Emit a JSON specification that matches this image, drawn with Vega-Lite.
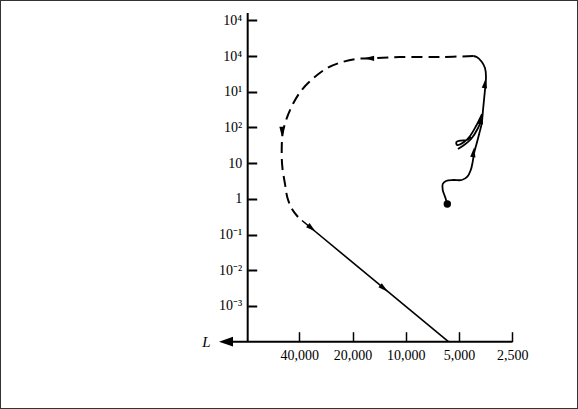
{
  "$schema": "https://vega.github.io/schema/vega-lite/v6.json",
  "width": 578,
  "height": 409,
  "autosize": {"type": "fit", "contains": "padding"},
  "padding": 0,
  "background": "white",
  "config": {"view": {"stroke": "#333", "strokeWidth": 2}, "font": "Liberation Serif"},
  "datasets": {
    "track": [
      {"seg": "A", "i": 1, "T": 5825, "v": 3.856},
      {"seg": "A", "i": 2, "T": 6000, "v": 4.06},
      {"seg": "A", "i": 3, "T": 6184, "v": 4.248},
      {"seg": "A", "i": 4, "T": 6184, "v": 4.416},
      {"seg": "A", "i": 5, "T": 5923, "v": 4.5},
      {"seg": "A", "i": 6, "T": 5393, "v": 4.528},
      {"seg": "A", "i": 7, "T": 4829, "v": 4.528},
      {"seg": "A", "i": 8, "T": 4487, "v": 4.621},
      {"seg": "A", "i": 9, "T": 4292, "v": 4.808},
      {"seg": "A", "i": 10, "T": 4185, "v": 5.041},
      {"seg": "A", "i": 11, "T": 4113, "v": 5.276},
      {"seg": "A", "i": 12, "T": 3973, "v": 5.556},
      {"seg": "A", "i": 13, "T": 3840, "v": 5.836},
      {"seg": "A", "i": 14, "T": 3723, "v": 6.116},
      {"seg": "A", "i": 15, "T": 3660, "v": 6.488},
      {"seg": "A", "i": 16, "T": 3600, "v": 6.852},
      {"seg": "A", "i": 17, "T": 3553, "v": 7.141},
      {"seg": "A", "i": 18, "T": 3521, "v": 7.412},
      {"seg": "A", "i": 19, "T": 3567, "v": 7.664},
      {"seg": "A", "i": 20, "T": 3723, "v": 7.841},
      {"seg": "A", "i": 21, "T": 3973, "v": 7.973},
      {"seg": "A", "i": 22, "T": 4148, "v": 8.001},
      {"seg": "B", "i": 1, "T": 3708, "v": 6.376},
      {"seg": "B", "i": 2, "T": 4008, "v": 6.04},
      {"seg": "B", "i": 3, "T": 4332, "v": 5.76},
      {"seg": "B", "i": 4, "T": 4683, "v": 5.592},
      {"seg": "B", "i": 5, "T": 5138, "v": 5.508},
      {"seg": "B", "i": 6, "T": 5172, "v": 5.592},
      {"seg": "B", "i": 7, "T": 4872, "v": 5.634},
      {"seg": "B", "i": 8, "T": 4506, "v": 5.648},
      {"seg": "B", "i": 9, "T": 4276, "v": 5.732},
      {"seg": "C", "i": 1, "T": 5072, "v": 5.396},
      {"seg": "C", "i": 2, "T": 4683, "v": 5.508},
      {"seg": "C", "i": 3, "T": 4276, "v": 5.676},
      {"seg": "C", "i": 4, "T": 3904, "v": 5.984},
      {"seg": "C", "i": 5, "T": 3708, "v": 6.264},
      {"seg": "D", "i": 1, "T": 4148, "v": 8.001},
      {"seg": "D", "i": 2, "T": 6403, "v": 7.973},
      {"seg": "D", "i": 3, "T": 10787, "v": 7.973},
      {"seg": "D", "i": 4, "T": 15263, "v": 7.936},
      {"seg": "D", "i": 5, "T": 18940, "v": 7.92},
      {"seg": "D", "i": 6, "T": 23552, "v": 7.813},
      {"seg": "D", "i": 7, "T": 27996, "v": 7.656},
      {"seg": "D", "i": 8, "T": 33336, "v": 7.376},
      {"seg": "D", "i": 9, "T": 38767, "v": 7.048},
      {"seg": "D", "i": 10, "T": 43248, "v": 6.676},
      {"seg": "D", "i": 11, "T": 47124, "v": 6.256},
      {"seg": "D", "i": 12, "T": 49640, "v": 5.836},
      {"seg": "D", "i": 13, "T": 50292, "v": 5.368},
      {"seg": "D", "i": 14, "T": 49900, "v": 4.901},
      {"seg": "D", "i": 15, "T": 48200, "v": 4.42},
      {"seg": "D", "i": 16, "T": 46644, "v": 4.024},
      {"seg": "D", "i": 17, "T": 43988, "v": 3.716},
      {"seg": "D", "i": 18, "T": 40684, "v": 3.492},
      {"seg": "S", "i": 1, "T": 38620, "v": 3.394},
      {"seg": "S", "i": 2, "T": 5743, "v": 0}
    ],
    "arrows": [
      {"dir": "up", "T": 3567, "v": 7.216},
      {"dir": "up", "T": 3757, "v": 6.208},
      {"dir": "up", "T": 4148, "v": 5.284},
      {"dir": "left", "T": 15937, "v": 7.936},
      {"dir": "down", "T": 50100, "v": 5.9},
      {"dir": "dr", "T": 34350, "v": 3.19},
      {"dir": "dr", "T": 13400, "v": 1.504}
    ],
    "axislines": [
      {"T": 78305, "v": 0, "T2": 78305, "v2": 9.205},
      {"T": 105200, "v": 0, "T2": 2500, "v2": 0}
    ],
    "axisarrow": [{"T": 103870, "v": 0}],
    "axislabel": [{"T": 133880, "v": 0, "label": "L"}],
    "start": [{"T": 5825, "v": 3.856}]
  },
  "encoding": {
    "x": {
      "field": "T",
      "type": "quantitative",
      "scale": {"type": "log", "base": 2, "domain": [1063, 1968000], "reverse": true, "nice": false, "zero": false},
      "axis": {
        "orient": "bottom",
        "offset": -67.3,
        "values": [40000, 20000, 10000, 5000, 2500],
        "labelExpr": "format(datum.value, ',')",
        "domain": false,
        "grid": false,
        "tickSize": -10,
        "tickWidth": 1.5,
        "tickColor": "black",
        "labelPadding": 17,
        "labelFontSize": 14,
        "labelFont": "Liberation Serif",
        "labelColor": "black",
        "labelFlush": false,
        "labelOverlap": false,
        "title": null
      }
    },
    "y": {
      "field": "v",
      "type": "quantitative",
      "scale": {"domain": [-1.885, 9.569], "nice": false, "zero": false},
      "axis": {
        "orient": "left",
        "offset": -247.7,
        "values": [1, 2, 3, 4, 5, 6, 7, 8, 9],
        "labelExpr": "['', '10⁻³', '10⁻²', '10⁻¹', '1', '10', '10²', '10¹', '10⁴', '10⁴'][datum.value]",
        "domain": false,
        "grid": false,
        "tickSize": -9,
        "tickWidth": 2,
        "tickColor": "black",
        "labelPadding": 15,
        "labelFontSize": 14,
        "labelFont": "Liberation Serif",
        "labelColor": "black",
        "labelFlush": false,
        "labelOverlap": false,
        "title": null
      }
    }
  },
  "layer": [
    {
      "data": {"name": "axislines"},
      "mark": {"type": "rule", "color": "black", "strokeWidth": 2},
      "encoding": {"x2": {"field": "T2"}, "y2": {"field": "v2"}}
    },
    {
      "data": {"name": "axisarrow"},
      "mark": {"type": "point", "shape": "M-1,0L1,-0.7L1,0.7Z", "size": 196, "filled": true, "color": "black", "opacity": 1, "strokeWidth": 0}
    },
    {
      "data": {"name": "axislabel"},
      "mark": {"type": "text", "font": "Liberation Serif", "fontStyle": "italic", "fontSize": 15, "color": "black", "align": "center", "baseline": "middle"},
      "encoding": {"text": {"field": "label"}}
    },
    {
      "data": {"name": "track"},
      "transform": [{"filter": "datum.seg === 'D'"}],
      "mark": {"type": "line", "interpolate": "catmull-rom", "color": "black", "strokeWidth": 2, "strokeDash": [11, 6]},
      "encoding": {"order": {"field": "i"}}
    },
    {
      "data": {"name": "track"},
      "transform": [{"filter": "datum.seg === 'A' || datum.seg === 'B' || datum.seg === 'C'"}],
      "mark": {"type": "line", "interpolate": "catmull-rom", "color": "black", "strokeWidth": 1.8},
      "encoding": {"order": {"field": "i"}, "detail": {"field": "seg"}}
    },
    {
      "data": {"name": "track"},
      "transform": [{"filter": "datum.seg === 'S'"}],
      "mark": {"type": "line", "color": "black", "strokeWidth": 1.6},
      "encoding": {"order": {"field": "i"}}
    },
    {
      "data": {"name": "arrows"},
      "transform": [{"filter": "datum.dir === 'up'"}],
      "mark": {"type": "point", "shape": "M0,-1L0.45,0.7L-0.45,0.7Z", "angle": 8, "size": 140, "filled": true, "color": "black", "opacity": 1, "strokeWidth": 0}
    },
    {
      "data": {"name": "arrows"},
      "transform": [{"filter": "datum.dir === 'left'"}],
      "mark": {"type": "point", "shape": "M0,-1L0.45,0.7L-0.45,0.7Z", "angle": 270, "size": 140, "filled": true, "color": "black", "opacity": 1, "strokeWidth": 0}
    },
    {
      "data": {"name": "arrows"},
      "transform": [{"filter": "datum.dir === 'down'"}],
      "mark": {"type": "point", "shape": "M0,-1L0.45,0.7L-0.45,0.7Z", "angle": 180, "size": 140, "filled": true, "color": "black", "opacity": 1, "strokeWidth": 0}
    },
    {
      "data": {"name": "arrows"},
      "transform": [{"filter": "datum.dir === 'dr'"}],
      "mark": {"type": "point", "shape": "M0,-1L0.45,0.7L-0.45,0.7Z", "angle": 130, "size": 140, "filled": true, "color": "black", "opacity": 1, "strokeWidth": 0}
    },
    {
      "data": {"name": "start"},
      "mark": {"type": "point", "shape": "circle", "size": 55, "filled": true, "color": "black", "opacity": 1}
    }
  ]
}
